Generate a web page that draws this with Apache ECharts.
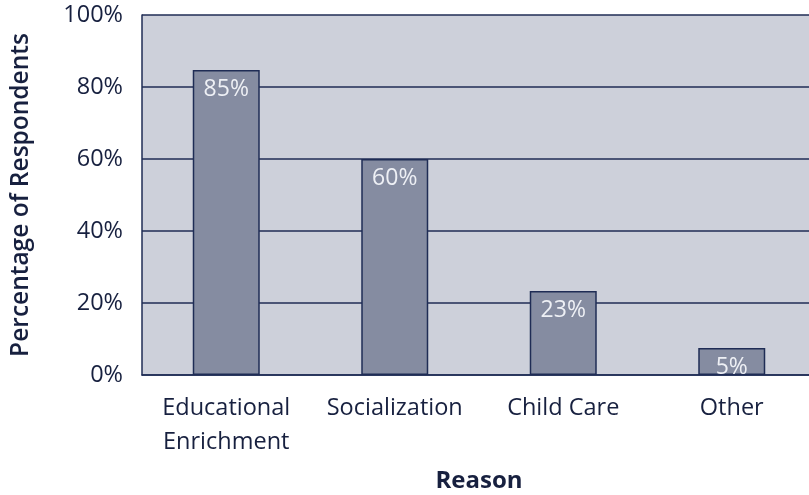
<!DOCTYPE html>
<html>
<head>
<meta charset="utf-8">
<script src="https://cdn.jsdelivr.net/npm/echarts@6/dist/echarts.min.js"></script>
<style>
html,body{margin:0;padding:0;background:#fff;}
#chart{width:809px;height:495px;}
</style>
</head>
<body>
<div id="chart"></div>
<script>
const categories = ['Educational\nEnrichment', 'Socialization', 'Child Care', 'Other'];
const values = [84.7, 60, 23.3, 7.5];
const valueLabels = ['85%', '60%', '23%', '5%'];
const yTicks = [0, 20, 40, 60, 80, 100];

const textColor = '#17203f';
const lineColor = '#1f2c55';
const fontFam = '"Open Sans", "Noto Sans", sans-serif';

const chart = echarts.init(document.getElementById('chart'), null, {renderer: 'canvas'});
chart.setOption({
  animation: false,
  backgroundColor: '#ffffff',
  grid: {
    left: 142, top: 15, right: -7, bottom: 120,
    containLabel: false, outerBoundsMode: 'none',
    show: true, backgroundColor: '#cdd0da', borderWidth: 0
  },
  xAxis: {
    type: 'category',
    data: categories,
    name: 'Reason',
    nameLocation: 'middle',
    nameGap: 94,
    nameTextStyle: {fontFamily: fontFam, fontSize: 24, fontWeight: 'bold', color: textColor},
    axisLine: {show: true, lineStyle: {color: lineColor, width: 1.5}},
    axisTick: {show: false},
    axisLabel: {interval: 0, margin: 16, fontFamily: fontFam, fontSize: 23.5, lineHeight: 34, color: textColor}
  },
  yAxis: {
    type: 'value',
    min: yTicks[0], max: yTicks[yTicks.length - 1], interval: 20,
    name: 'Percentage of Respondents',
    nameLocation: 'middle',
    nameGap: 108,
    nameTextStyle: {fontFamily: fontFam, fontSize: 24.5, fontWeight: 600, color: textColor},
    axisLine: {show: true, lineStyle: {color: lineColor, width: 1.5}},
    axisTick: {show: false},
    axisLabel: {margin: 19, fontFamily: fontFam, fontSize: 23.5, color: textColor, formatter: v => v + '%'},
    splitLine: {show: true, lineStyle: {color: lineColor, width: 1.5}}
  },
  series: [{
    type: 'bar',
    data: values,
    barWidth: 67,
    itemStyle: {color: '#858ca1', borderColor: lineColor, borderWidth: 1.5},
    label: {
      show: true, position: 'insideTop', distance: 8,
      fontFamily: fontFam, fontSize: 23, color: '#eef0f5',
      formatter: p => valueLabels[p.dataIndex]
    }
  }]
});
</script>
</body>
</html>
